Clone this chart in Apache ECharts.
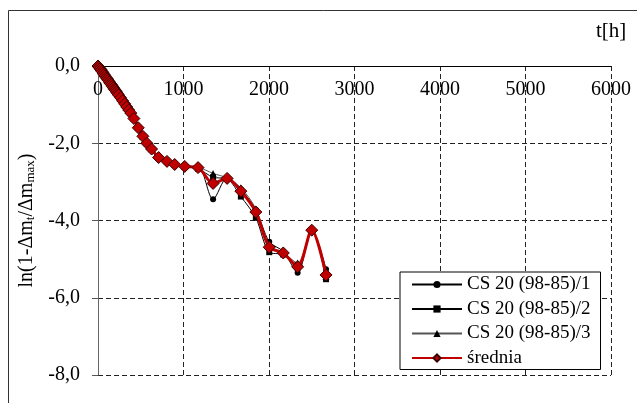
<!DOCTYPE html>
<html>
<head>
<meta charset="utf-8">
<script src="https://cdn.jsdelivr.net/npm/echarts@6/dist/echarts.min.js"></script>
<style>
  html, body { margin: 0; padding: 0; background: #fff; }
  #chart { width: 637px; height: 403px; }
</style>
</head>
<body>
<div id="chart"></div>
<script>
// Sampling times [h], shared by all specimens
const times = [0, 12, 24, 36, 48, 60, 72, 84, 96, 108, 120, 132, 144, 156, 168, 180, 192, 204, 216, 228, 240,
  264, 288, 312, 336, 360, 384, 420, 471, 525, 572, 627, 709, 807, 897, 1014, 1170, 1346, 1510, 1671, 1846,
  2003, 2167, 2335, 2500, 2667];

// ln(1 - dm_t/dm_max) for each specimen
const cs1 = [0, -0.03, -0.07, -0.11, -0.15, -0.19, -0.23, -0.27, -0.31, -0.34, -0.38, -0.42, -0.46, -0.49, -0.53, -0.57, -0.61, -0.64, -0.68, -0.72, -0.76,
  -0.83, -0.91, -0.99, -1.07, -1.15, -1.23, -1.37, -1.61, -1.83, -2.01, -2.16, -2.38, -2.49, -2.57, -2.61, -2.60, -3.45, -2.90, -3.20, -3.72,
  -4.55, -4.80, -5.35, -4.25, -5.26];
const cs2 = [0, -0.03, -0.07, -0.10, -0.14, -0.18, -0.22, -0.26, -0.30, -0.33, -0.37, -0.41, -0.45, -0.48, -0.52, -0.56, -0.60, -0.63, -0.67, -0.71, -0.75,
  -0.82, -0.90, -0.98, -1.06, -1.14, -1.22, -1.36, -1.60, -1.82, -2.00, -2.15, -2.37, -2.47, -2.55, -2.60, -2.66, -2.88, -2.92, -3.38, -3.93,
  -4.82, -4.88, -5.15, -4.27, -5.52];
const cs3 = [0, -0.03, -0.06, -0.10, -0.14, -0.17, -0.21, -0.25, -0.29, -0.32, -0.36, -0.40, -0.44, -0.47, -0.51, -0.55, -0.59, -0.62, -0.66, -0.70, -0.74,
  -0.81, -0.89, -0.97, -1.05, -1.13, -1.21, -1.35, -1.59, -1.81, -1.99, -2.14, -2.36, -2.45, -2.53, -2.59, -2.62, -2.78, -2.90, -3.15, -3.70,
  -4.70, -4.84, -5.10, -4.23, -5.45];
// Mean of the three specimens
const srednia = [0, -0.03, -0.07, -0.10, -0.14, -0.18, -0.22, -0.26, -0.30, -0.33, -0.37, -0.41, -0.45, -0.48, -0.52, -0.56, -0.60, -0.63, -0.67, -0.71, -0.75,
  -0.82, -0.90, -0.98, -1.06, -1.14, -1.22, -1.36, -1.60, -1.82, -2.00, -2.15, -2.37, -2.47, -2.55, -2.60, -2.63, -3.04, -2.91, -3.24, -3.78,
  -4.69, -4.84, -5.20, -4.25, -5.41];

const seriesNames = ['CS 20 (98-85)/1', 'CS 20 (98-85)/2', 'CS 20 (98-85)/3', 'średnia'];
const yTicks = [0, -2, -4, -6, -8];

const FONT = 'Liberation Serif';
const pairs = (ys) => times.map((t, i) => [t, ys[i]]);

const chart = echarts.init(document.getElementById('chart'), null, { renderer: 'canvas' });

chart.setOption({
  backgroundColor: '#fff',
  animation: false,
  textStyle: { fontFamily: FONT, color: '#000' },
  grid: { left: 98, right: 26, top: 66, bottom: 28, containLabel: false },
  xAxis: {
    type: 'value',
    position: 'top',
    min: 0, max: 6000, interval: 1000,
    axisLine: { show: true, onZero: false, lineStyle: { color: '#000', width: 1 } },
    axisTick: { show: false },
    axisLabel: {
      inside: true, margin: 14, fontSize: 20, fontFamily: FONT, color: '#000',
      formatter: (v) => String(v)
    },
    splitLine: { show: true, lineStyle: { color: '#222', width: 1, type: [5, 3] } }
  },
  yAxis: {
    type: 'value',
    min: -8, max: 0, interval: 2,
    axisLine: { show: true, onZero: false, lineStyle: { color: '#666', width: 1 } },
    axisTick: { show: true, inside: false, length: 6, lineStyle: { color: '#555' } },
    axisLabel: {
      margin: 18, fontSize: 20, fontFamily: FONT, color: '#000',
      formatter: (v) => yTicks.includes(v) ? v.toFixed(1).replace('.', ',') : ''
    },
    splitLine: { show: true, lineStyle: { color: '#222', width: 1, type: [5, 3] } },
    name: '{m|ln(1-Δm}{s|t}{m|/Δm}{s|max}{m|)}',
    nameLocation: 'middle',
    nameGap: 59,
    nameRotate: 90,
    nameTextStyle: {
      rich: {
        m: { fontSize: 20, fontFamily: FONT, color: '#000', lineHeight: 22, verticalAlign: 'middle' },
        s: { fontSize: 13, fontFamily: FONT, color: '#000', lineHeight: 13, verticalAlign: 'bottom' }
      }
    }
  },
  legend: {
    orient: 'vertical',
    left: 400, top: 272,
    backgroundColor: '#fff',
    borderColor: '#000', borderWidth: 1,
    padding: [3, 10, 2, 11],
    itemGap: 5.5,
    itemWidth: 50, itemHeight: 9,
    itemTextGap: 6,
    textStyle: { fontSize: 19, fontFamily: FONT, color: '#000', lineHeight: 19 },
    data: seriesNames
  },
  graphic: [
    {
      type: 'rect', silent: true, z: -1,
      shape: { x: 8.5, y: 10.5, width: 700, height: 500 },
      style: { fill: 'none', stroke: '#333', lineWidth: 1 }
    },
    {
      type: 'text', silent: true,
      left: 596, top: 21,
      style: { text: 't[h]', fontSize: 21, fontFamily: FONT, fill: '#000' }
    }
  ],
  series: [
    {
      name: seriesNames[0], type: 'line', smooth: 0.3, data: pairs(cs1),
      symbol: 'circle', symbolSize: 6,
      lineStyle: { color: '#000', width: 1 },
      itemStyle: { color: '#000' }, z: 2
    },
    {
      name: seriesNames[1], type: 'line', smooth: 0.3, data: pairs(cs2),
      symbol: 'rect', symbolSize: 6,
      lineStyle: { color: '#000', width: 1 },
      itemStyle: { color: '#000' }, z: 2
    },
    {
      name: seriesNames[2], type: 'line', smooth: 0.3, data: pairs(cs3),
      symbol: 'triangle', symbolSize: 7,
      lineStyle: { color: '#555', width: 1 },
      itemStyle: { color: '#000' }, z: 2
    },
    {
      name: seriesNames[3], type: 'line', smooth: 0.3, data: pairs(srednia),
      symbol: 'diamond', symbolSize: 12,
      lineStyle: { color: '#C00000', width: 3 },
      itemStyle: { color: '#C00000', borderColor: '#3a0000', borderWidth: 1 }, z: 3
    }
  ]
});
</script>
</body>
</html>
